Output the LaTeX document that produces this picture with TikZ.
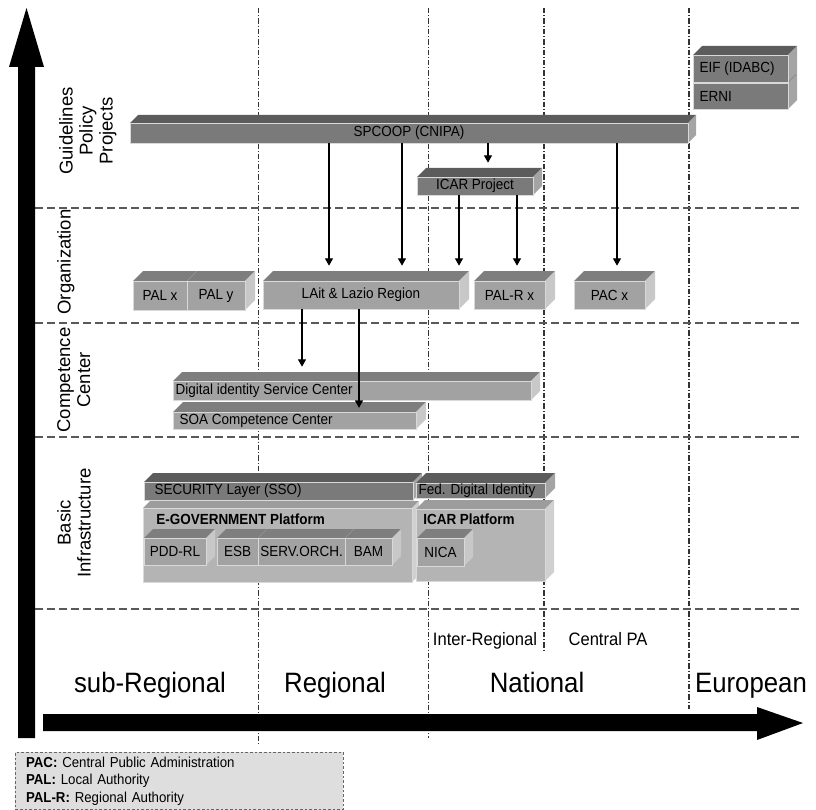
\documentclass[tikz,border=0pt]{standalone}
\usepackage{fontspec}
\setmainfont{Liberation Sans}[FakeStretch=0.92]
\newfontfamily\axisfont{Liberation Sans}
\usetikzlibrary{arrows.meta}

\definecolor{darkfront}{HTML}{7A7A7A}
\definecolor{darktop}{HTML}{5C5C5C}
\definecolor{darkside}{HTML}{A4A4A4}
\definecolor{litefront}{HTML}{A2A2A2}
\definecolor{litetop}{HTML}{7E7E7E}
\definecolor{liteside}{HTML}{C8C8C8}
\definecolor{palefront}{HTML}{B4B4B4}
\definecolor{paletop}{HTML}{9C9C9C}
\definecolor{paleside}{HTML}{D0D0D0}
\definecolor{notegray}{HTML}{DEDEDE}

\newcommand{\boxfont}{\fontsize{11}{13}\selectfont}

% 3d slab: name, left, top, right, bottom, depth, shade, text
\newcommand{\slab}[8]{%
  \fill[#7top] (#2,#3) -- (#2+#6,#3-#6) -- (#4+#6,#3-#6) -- (#4,#3) -- cycle;
  \fill[#7side] (#4,#3) -- (#4+#6,#3-#6) -- (#4+#6,#5-#6) -- (#4,#5) -- cycle;
  \node[slabface,fill=#7front,minimum width={(#4-#2)*0.75pt},minimum height={(#5-#3)*0.75pt}]
    (#1) at ({(#2+#4)/2},{(#3+#5)/2}) {#8};
  \coordinate (#1top) at (#2+#6,#3-#6);
}

\begin{document}
\begin{tikzpicture}[x=0.75pt,y=-0.75pt,
  band/.style={draw=black!65,line width=1.3pt,dash pattern=on 6pt off 3pt},
  scopeline/.style={draw=black!80,line width=#1,dash pattern=on 4pt off 1.5pt on 0.8pt off 1.5pt},
  flow/.style={-{Triangle[width=6pt,length=5.5pt]},line width=0.8pt,shorten >=4pt},
  slabface/.style={inner sep=0pt,draw=black!15,line width=0.3pt,font=\boxfont},
  tag/.style={inner sep=0pt,anchor=west,font=\boxfont},
  level/.style={rotate=90,anchor=north,inner sep=0pt,align=center,font=\axisfont\fontsize{13.9}{15}\selectfont},
  reach/.style={anchor=base,inner sep=0pt,font=\fontsize{21}{24}\selectfont},
  subreach/.style={anchor=base,inner sep=0pt,font=\fontsize{13.5}{15}\selectfont},
  legend/.style={draw=black!60,line width=0.6pt,dash pattern=on 2pt off 1.5pt,fill=notegray,
    text width=230pt,inner xsep=8pt,minimum height=42pt,align=left,font=\fontsize{10.8}{13.1}\selectfont}]
	\useasboundingbox (0,0) rectangle (816,809);

	% grid
	\foreach \x/\e/\w in {258/745/0.6pt,428/738/0.6pt,544/652/1pt,689/709/1pt}
		\draw[scopeline=\w] (\x,8) -- (\x,\e);
	\foreach \y in {208,323,437,609}
		\draw[band] (35,\y) -- (800,\y);

	% axes
	\fill[black] (18,738) -- (18,67) -- (9,67) -- (26.5,8) -- (44,67) -- (35,67) -- (35,738) -- cycle;
	\fill[black] (43,714) -- (757,714) -- (757,707) -- (803,723) -- (757,740) -- (757,731) -- (43,731) -- cycle;

	% guidelines
	\slab{erni}{693}{83}{788}{109}{9}{dark}{}
	\slab{eif}{693}{55}{788}{82}{9}{dark}{}
	\slab{spcoop}{130}{123}{688}{143}{8}{dark}{SPCOOP (CNIPA)}
	\slab{icarp}{417}{177}{533}{195}{9}{dark}{ICAR Project}
	\node[tag] (eiflbl) at ([xshift=5pt]eif.west) {EIF (IDABC)};
	\node[tag] (ernilbl) at ([xshift=5pt]erni.west) {ERNI};

	% organization
	\slab{palx}{133}{281}{187}{310}{10}{lite}{PAL x}
	\slab{paly}{187}{281}{245}{310}{10}{lite}{PAL y}
	\slab{lait}{263}{281}{459}{309}{10}{lite}{LAit \& Lazio Region}
	\slab{palr}{474}{281}{545}{309}{10}{lite}{PAL-R x}
	\slab{pac}{574}{281}{645}{309}{10}{lite}{PAC x}

	% competence center
	\slab{dig}{173}{381}{531}{400}{9}{lite}{}
	\slab{soa}{173}{412}{416}{429}{10}{lite}{}
	\node[tag] (diglbl) at ([xshift=2pt]dig.west) {Digital identity Service Center};
	\node[tag] (soalbl) at ([xshift=5pt]soa.west) {SOA Competence Center};

	% infrastructure
	\slab{egov}{143}{508}{412}{582}{7}{pale}{}
	\slab{sec}{144}{482}{413}{500}{9}{dark}{}
	\slab{icarpl}{416}{509}{545}{581}{9}{pale}{}
	\slab{fed}{416}{483}{545}{498}{10}{dark}{}
	\slab{pdd}{144}{538}{206}{565}{9}{lite}{PDD-RL}
	\slab{esb}{217}{538}{258}{565}{9}{lite}{ESB}
	\slab{orch}{258}{538}{345}{565}{9}{lite}{SERV.ORCH.}
	\slab{bam}{345}{538}{392}{565}{9}{lite}{BAM}
	\slab{nica}{417}{538}{464}{566}{9}{lite}{NICA}
	\node[tag] (seclbl) at ([xshift=8pt]sec.west) {SECURITY Layer (SSO)};
	\node[tag] (fedlbl) at ([xshift=2pt]fed.west) {Fed. Digital Identity};
	\node[tag,font=\boxfont\bfseries] (egovlbl) at (156,519) {E-GOVERNMENT Platform};
	\node[tag,font=\boxfont\bfseries] (icarpllbl) at (423,519) {ICAR Platform};

	% dependencies
	\draw[flow] (spcoop.south -| 329,0) -- (laittop -| 329,0);
	\draw[flow] (spcoop.south -| 402,0) -- (laittop -| 402,0);
	\draw[flow] (spcoop.south -| 488,0) -- (icarptop -| 488,0);
	\draw[flow] (spcoop.south -| 617,0) -- (pactop -| 617,0);
	\draw[flow] (icarp.south -| 459,0) -- (laittop -| 459,0);
	\draw[flow] (icarp.south -| 517,0) -- (palrtop -| 517,0);
	\draw[flow] (lait.south -| 302,0) -- (digtop -| 302,0);
	\draw[flow,shorten >=3pt] (lait.south -| 359,0) -- (soa.north -| 359,0);

	% levels
	\node[level] (lvlpol) at (59,131) {Guidelines\\Policy\\Projects};
	\node[level] (lvlorg) at (57,262) {Organization};
	\node[level] (lvlcomp) at (57,380) {Competence\\Center};
	\node[level] (lvlinfra) at (57,523) {Basic\\Infrastructure};

	% scopes
	\node[subreach] (interreg) at (485,645) {Inter-Regional};
	\node[subreach] (centralpa) at (608,645) {Central PA};
	\node[reach] (subreg) at (150,692) {sub-Regional};
	\node[reach] (reg) at (335,692) {Regional};
	\node[reach] (nat) at (537,692) {National};
	\node[reach] (eur) at (751,692) {European};

	\node[legend,anchor=north west] (notes) at (15,752)
		{\textbf{PAC:} Central Public Administration\\
		 \textbf{PAL:} Local Authority\\
		 \textbf{PAL-R:} Regional Authority};
\end{tikzpicture}
\end{document}
